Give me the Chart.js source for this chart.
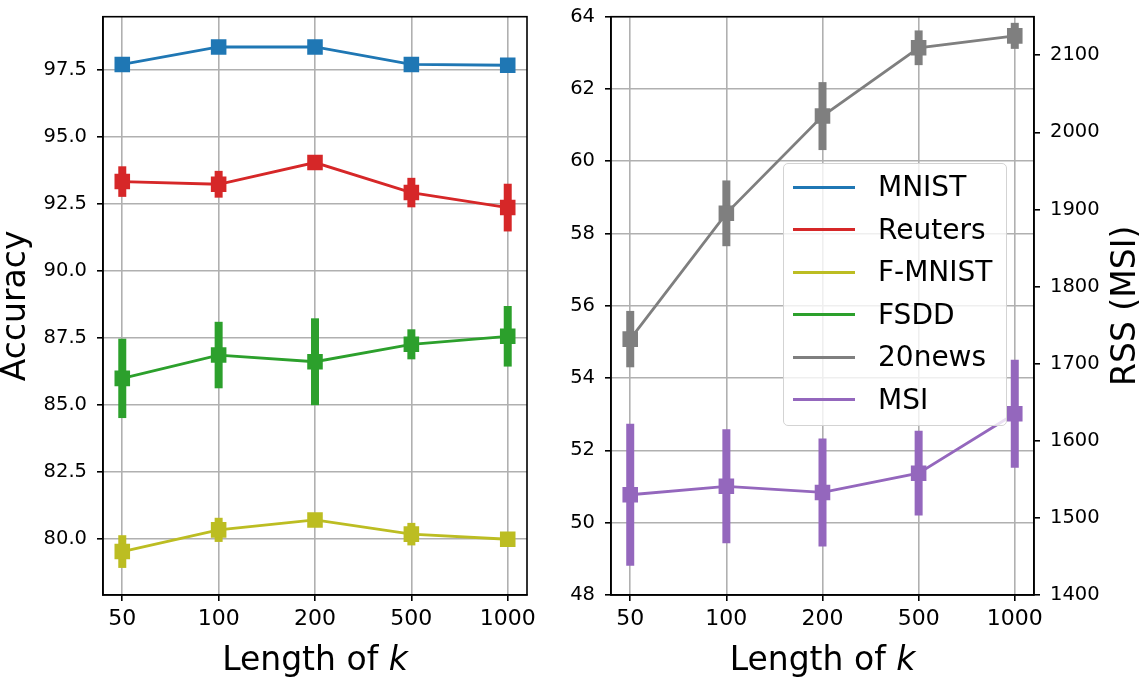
<!DOCTYPE html>
<html>
<head>
<meta charset="UTF-8">
<title>Accuracy and RSS against length of k</title>
<script src="https://cdn.jsdelivr.net/npm/chart.js@4.4.0/dist/chart.umd.min.js"></script>
<style>
    body { margin: 0; background: #fff; }
    #wrap { position: relative; width: 1143px; height: 677px; overflow: hidden; }
    #left { position: absolute; left: 0; top: 0; }
    #right { position: absolute; left: 560px; top: 0; }
    #legend {
        position: absolute; left: 783px; top: 163px; width: 224px; height: 263px;
        box-sizing: border-box; border: 1.5px solid #d3d3d3; border-radius: 5px;
        background: rgba(255, 255, 255, 0.8);
        font-family: 'DejaVu Sans', sans-serif; font-size: 28px; color: #000;
    }
    #legend .row { position: absolute; left: 0; width: 100%; height: 42px; }
    #legend .swatch { position: absolute; left: 9px; top: 19.5px; width: 62px; height: 3px; }
    #legend .name { position: absolute; left: 94px; top: 0; line-height: 42px; white-space: nowrap; }
</style>
</head>
<body>
<div id="wrap">
    <canvas id="left" width="560" height="677"></canvas>
    <canvas id="right" width="583" height="677"></canvas>
    <div id="legend"></div>
</div>
<script>
    // x categories
    const kLabels = ['50', '100', '200', '500', '1000'];

    // left panel: accuracy (mean, std)
    const mnist = [97.71, 98.36, 98.36, 97.71, 97.68];
    const mnistErr = [0.12, 0.1, 0.1, 0.12, 0.1];
    const reuters = [93.34, 93.24, 94.05, 92.93, 92.37];
    const reutersErr = [0.57, 0.5, 0.2, 0.55, 0.89];
    const fmnist = [79.54, 80.35, 80.72, 80.19, 80.0];
    const fmnistErr = [0.61, 0.45, 0.2, 0.42, 0.15];
    const fsdd = [86.0, 86.87, 86.62, 87.27, 87.57];
    const fsddErr = [1.48, 1.24, 1.62, 0.56, 1.13];

    // right panel: 20news on the left axis, MSI RSS on the right axis
    const news = [55.08, 58.56, 61.25, 63.14, 63.47];
    const newsErr = [0.78, 0.91, 0.94, 0.48, 0.36];
    const msi = [1530, 1541, 1533, 1558, 1635];
    const msiErr = [92, 74, 70, 55, 70];

    // tick values
    const accTicks = [80, 82.5, 85, 87.5, 90, 92.5, 95, 97.5];
    const newsTicks = [48, 50, 52, 54, 56, 58, 60, 62, 64];
    const rssTicks = [1400, 1500, 1600, 1700, 1800, 1900, 2000, 2100];

    const seriesNames = ['MNIST', 'Reuters', 'F-MNIST', 'FSDD', '20news', 'MSI'];
    const seriesColors = ['#1f77b4', '#d62728', '#bcbd22', '#2ca02c', '#7f7f7f', '#9467bd'];

    const FONT = "'DejaVu Sans', sans-serif";
    Chart.defaults.font.family = FONT;
    Chart.defaults.color = '#000';

    function pts(vals) {
        return vals.map((v, i) => ({x: i, y: v}));
    }

    function series(idx, vals, errs, axis) {
        return {
            label: seriesNames[idx],
            data: pts(vals),
            errors: errs,
            yAxisID: axis || 'y',
            borderColor: seriesColors[idx],
            backgroundColor: seriesColors[idx],
            borderWidth: 2.8,
            pointStyle: 'rect',
            pointRadius: 11,
            pointHoverRadius: 11,
            pointBorderWidth: 0,
            tension: 0
        };
    }

    const gridStyle = {color: '#b0b0b0', lineWidth: 1.6, tickColor: '#000', tickLength: 6, tickWidth: 1.6};
    const borderStyle = {display: true, color: '#000', width: 1.6};

    function xAxis() {
        return {
            type: 'linear', min: -0.2, max: 4.2,
            afterBuildTicks: s => { s.ticks = kLabels.map((_, i) => ({value: i})); },
            afterFit: s => { s.height = 82; s.paddingLeft = 0; s.paddingRight = 0; },
            ticks: {callback: v => kLabels[v], font: {size: 22}, padding: 5, maxRotation: 0, autoSkip: false},
            grid: gridStyle,
            border: borderStyle
        };
    }

    function yAxis(min, max, tickVals, width, fmt) {
        return {
            min: min, max: max,
            afterBuildTicks: s => { s.ticks = tickVals.map(v => ({value: v})); },
            afterFit: s => { s.width = width; s.paddingTop = 0; s.paddingBottom = 0; },
            ticks: {callback: fmt, font: {size: 19.5}, padding: 10, autoSkip: false},
            grid: gridStyle,
            border: borderStyle
        };
    }

    // thick vertical error bars, drawn through the dataset's own y scale
    const errorBars = {
        id: 'errorBars',
        beforeDatasetDraw(chart, args) {
            const ds = chart.data.datasets[args.index];
            if (!ds.errors) return;
            const meta = args.meta;
            const scale = chart.scales[ds.yAxisID];
            const ctx = chart.ctx;
            ctx.save();
            ctx.strokeStyle = ds.borderColor;
            ctx.lineWidth = 8;
            ctx.lineCap = 'butt';
            meta.data.forEach((el, i) => {
                const v = ds.data[i].y, e = ds.errors[i];
                ctx.beginPath();
                ctx.moveTo(el.x, scale.getPixelForValue(v + e));
                ctx.lineTo(el.x, scale.getPixelForValue(v - e));
                ctx.stroke();
            });
            ctx.restore();
        }
    };

    // full box around the plot area, x title with italic k, optional rotated right title
    const frame = {
        id: 'frame',
        afterDraw(chart, args, opts) {
            const ctx = chart.ctx;
            const a = chart.chartArea;
            ctx.save();
            ctx.strokeStyle = '#000';
            ctx.lineWidth = 1.6;
            ctx.strokeRect(a.left, a.top, a.right - a.left, a.bottom - a.top);

            ctx.fillStyle = '#000';
            ctx.textBaseline = 'alphabetic';
            const plain = '33px ' + FONT, ital = 'italic 33px ' + FONT;
            ctx.font = plain;
            const w1 = ctx.measureText('Length of ').width;
            ctx.font = ital;
            const w2 = ctx.measureText('k').width;
            const x0 = (a.left + a.right) / 2 - (w1 + w2) / 2;
            ctx.textAlign = 'left';
            ctx.font = plain;
            ctx.fillText('Length of ', x0, 670);
            ctx.font = ital;
            ctx.fillText('k', x0 + w1, 670);

            if (opts.rightTitle) {
                ctx.font = plain;
                ctx.translate(opts.rightX, (a.top + a.bottom) / 2);
                ctx.rotate(-Math.PI / 2);
                ctx.textAlign = 'center';
                ctx.textBaseline = 'middle';
                ctx.fillText(opts.rightTitle, 0, 0);
            }
            ctx.restore();
        }
    };

    const yLeft = yAxis(77.92, 99.49, accTicks, 103, v => v.toFixed(1));
    yLeft.title = {display: true, text: 'Accuracy', font: {size: 33, lineHeight: 1}, padding: 0};

    new Chart(document.getElementById('left'), {
        type: 'line',
        data: {
            datasets: [
                series(0, mnist, mnistErr),
                series(1, reuters, reutersErr),
                series(2, fmnist, fmnistErr),
                series(3, fsdd, fsddErr)
            ]
        },
        options: {
            responsive: false,
            animation: false,
            layout: {padding: {top: 16.7, right: 33, left: 0, bottom: 0}},
            plugins: {legend: {display: false}, tooltip: {enabled: false}, frame: {}},
            scales: {x: xAxis(), y: yLeft}
        },
        plugins: [errorBars, frame]
    });

    const y2 = yAxis(1400, 2150, rssTicks, 109, v => String(v));
    y2.position = 'right';
    y2.grid = Object.assign({}, gridStyle, {drawOnChartArea: false});

    new Chart(document.getElementById('right'), {
        type: 'line',
        data: {
            datasets: [
                series(4, news, newsErr, 'y'),
                series(5, msi, msiErr, 'y2')
            ]
        },
        options: {
            responsive: false,
            animation: false,
            layout: {padding: {top: 16.7, right: 0, left: 0, bottom: 0}},
            plugins: {
                legend: {display: false}, tooltip: {enabled: false},
                frame: {rightTitle: 'RSS (MSI)', rightX: 566}
            },
            scales: {
                x: xAxis(),
                y: yAxis(48, 64, newsTicks, 51, v => String(v)),
                y2: y2
            }
        },
        plugins: [errorBars, frame]
    });

    // legend for both panels
    const legend = document.getElementById('legend');
    seriesNames.forEach((name, i) => {
        const row = document.createElement('div');
        row.className = 'row';
        row.style.top = (2 + i * 42.5) + 'px';
        const sw = document.createElement('div');
        sw.className = 'swatch';
        sw.style.background = seriesColors[i];
        const tx = document.createElement('div');
        tx.className = 'name';
        tx.textContent = name;
        row.appendChild(sw);
        row.appendChild(tx);
        legend.appendChild(row);
    });
</script>
</body>
</html>
